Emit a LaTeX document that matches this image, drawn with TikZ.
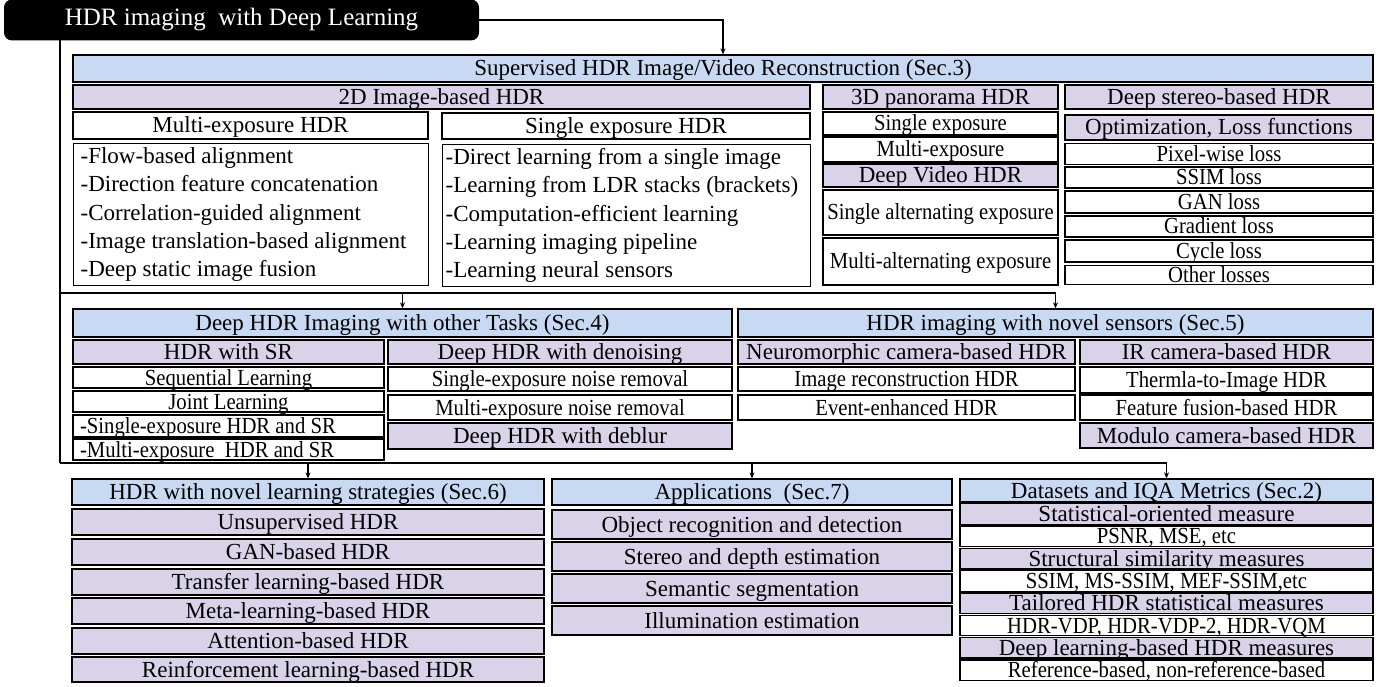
\documentclass[tikz,border=0pt]{standalone}
\usepackage{fontspec}
\setmainfont{Liberation Serif}
\newfontfamily\narrowserif[FakeStretch=0.9]{Liberation Serif}
\usetikzlibrary{arrows.meta}
\definecolor{secblue}{RGB}{200,218,243}
\definecolor{sublav}{RGB}{217,210,232}

\begin{document}
\begin{tikzpicture}[x=1pt, y=-1pt,
    hbox/.style={draw, line width=1.3pt, inner sep=0pt, text height=15pt, text depth=0pt, font=\fontsize{23}{28}\selectfont},
    secbox/.style={hbox, fill=secblue},
    subbox/.style={hbox, fill=sublav},
    headbox/.style={hbox, fill=white},
    itembox/.style={hbox, fill=white, font=\narrowserif\fontsize{23}{28}\selectfont},
    itemleft/.style={itembox, inner xsep=7pt, align=flush left},
    listbox/.style={draw, line width=1.3pt, anchor=north west, align=flush left, inner ysep=0pt, font=\fontsize{23}{28.3}\selectfont},
    link/.style={line width=1.3pt},
    arr/.style={link, -{Stealth[length=6pt,width=5pt]}}]
    \useasboundingbox (0,0) rectangle (1379,687);

    % Root
    \node[fill=black, text=white, rounded corners=8pt, minimum width=475, minimum height=41, inner sep=0pt, font=\fontsize{25}{30}\selectfont] (root) at (241.5,20) {HDR imaging~ with Deep Learning};

    % Supervised reconstruction (Sec.3)
    \node[secbox, minimum width=1300, minimum height=27] (sup) at (723,68.5) {Supervised HDR Image/Video Reconstruction (Sec.3)};
    \node[subbox, minimum width=737, minimum height=24] (img2d) at (441.5,97) {2D Image-based HDR};
    \node[headbox, minimum width=355, minimum height=27] (multi) at (250.5,125.5) {Multi-exposure HDR};
    \node[listbox, inner xsep=7pt, minimum height=142, text width=341] (multilist) at (73,143) {-Flow-based alignment\\-Direction feature concatenation\\-Correlation-guided alignment\\-Image translation-based alignment\\-Deep static image fusion};
    \node[headbox, minimum width=368, minimum height=26] (single) at (626,126) {Single exposure HDR};
    \node[listbox, inner xsep=3pt, minimum height=142, text width=362] (singlelist) at (442,144) {-Direct learning from a single image\\-Learning from LDR stacks (brackets)\\-Computation-efficient learning\\-Learning imaging pipeline\\-Learning neural sensors};

    \node[subbox, minimum width=235, minimum height=24] (pano) at (940.5,97) {3D panorama HDR};
    \node[itembox, minimum width=235, minimum height=23] (panosingle) at (940.5,123.5) {Single exposure};
    \node[itembox, minimum width=235, minimum height=25] (panomulti) at (940.5,149.5) {Multi-exposure};
    \node[subbox, minimum width=235, minimum height=23] (video) at (940.5,175.5) {Deep Video HDR};
    \node[itembox, minimum width=235, minimum height=45] (videosingle) at (940.5,212.5) {Single alternating exposure};
    \node[itembox, minimum width=235, minimum height=47] (videomulti) at (940.5,261.5) {Multi-alternating exposure};

    \node[subbox, minimum width=308, minimum height=24] (stereo) at (1219,97) {Deep stereo-based HDR};
    \node[subbox, minimum width=308, minimum height=25] (optim) at (1219,127.5) {Optimization, Loss functions};
    \node[itembox, minimum width=308, minimum height=21] (pixloss) at (1219,154) {Pixel-wise loss};
    \node[itembox, minimum width=308, minimum height=21] (ssimloss) at (1219,177.5) {SSIM loss};
    \node[itembox, minimum width=308, minimum height=22] (ganloss) at (1219,202) {GAN loss};
    \node[itembox, minimum width=308, minimum height=21] (gradloss) at (1219,226.5) {Gradient loss};
    \node[itembox, minimum width=308, minimum height=22] (cycleloss) at (1219,251) {Cycle loss};
    \node[itembox, minimum width=308, minimum height=19] (otherloss) at (1219,275) {Other losses};

    % Other tasks (Sec.4)
    \node[secbox, minimum width=659, minimum height=28] (tasks) at (402.5,323) {Deep HDR Imaging with other Tasks (Sec.4)};
    \node[subbox, minimum width=311, minimum height=24] (sr) at (228.5,352) {HDR with SR};
    \node[itembox, minimum width=311, minimum height=21] (seq) at (228.5,377.5) {Sequential Learning};
    \node[itembox, minimum width=311, minimum height=21] (joint) at (228.5,401.5) {Joint Learning};
    \node[itemleft, text width=297, minimum height=22] (srsingle) at (228.5,426) {-Single-exposure HDR and SR};
    \node[itemleft, text width=297, minimum height=21] (srmulti) at (228.5,449.5) {-Multi-exposure~ HDR and SR};
    \node[subbox, minimum width=344, minimum height=24] (denoise) at (560,352) {Deep HDR with denoising};
    \node[itembox, minimum width=344, minimum height=24] (dnsingle) at (560,379) {Single-exposure noise removal};
    \node[itembox, minimum width=344, minimum height=25] (dnmulti) at (560,407.5) {Multi-exposure noise removal};
    \node[subbox, minimum width=344, minimum height=26] (deblur) at (560,436) {Deep HDR with deblur};

    % Novel sensors (Sec.5)
    \node[secbox, minimum width=635, minimum height=28] (sensors) at (1055.5,323) {HDR imaging with novel sensors (Sec.5)};
    \node[subbox, minimum width=337, minimum height=24] (neuro) at (906.5,352) {Neuromorphic camera-based HDR};
    \node[itembox, minimum width=337, minimum height=24] (imgrec) at (906.5,379) {Image reconstruction HDR};
    \node[itembox, minimum width=337, minimum height=25] (event) at (906.5,407.5) {Event-enhanced HDR};
    \node[subbox, minimum width=293, minimum height=24] (ircam) at (1226.5,352) {IR camera-based HDR};
    \node[itembox, minimum width=293, minimum height=26] (thermal) at (1226.5,380) {Thermla-to-Image HDR};
    \node[itembox, minimum width=293, minimum height=25] (fusion) at (1226.5,407.5) {Feature fusion-based HDR};
    \node[subbox, minimum width=293, minimum height=25] (modulo) at (1226.5,435.5) {Modulo camera-based HDR};

    % Learning strategies (Sec.6)
    \node[secbox, minimum width=472, minimum height=26] (learn) at (308,492) {HDR with novel learning strategies (Sec.6)};
    \node[subbox, minimum width=472, minimum height=26] (unsup) at (308,522) {Unsupervised HDR};
    \node[subbox, minimum width=472, minimum height=26] (gan) at (308,552) {GAN-based HDR};
    \node[subbox, minimum width=472, minimum height=26] (transfer) at (308,582) {Transfer learning-based HDR};
    \node[subbox, minimum width=472, minimum height=26] (meta) at (308,611) {Meta-learning-based HDR};
    \node[subbox, minimum width=472, minimum height=26] (attention) at (308,641) {Attention-based HDR};
    \node[subbox, minimum width=472, minimum height=25] (reinforce) at (308,669.5) {Reinforcement learning-based HDR};

    % Applications (Sec.7)
    \node[secbox, minimum width=400, minimum height=26] (apps) at (752,492) {Applications~ (Sec.7)};
    \node[subbox, minimum width=400, minimum height=29] (object) at (752,524.5) {Object recognition and detection};
    \node[subbox, minimum width=400, minimum height=29] (depth) at (752,556.5) {Stereo and depth estimation};
    \node[subbox, minimum width=400, minimum height=29] (segment) at (752,588.5) {Semantic segmentation};
    \node[subbox, minimum width=400, minimum height=29] (illum) at (752,620.5) {Illumination estimation};

    % Datasets and metrics (Sec.2)
    \node[secbox, minimum width=413, minimum height=23] (data) at (1166.5,490.5) {Datasets and IQA Metrics (Sec.2)};
    \node[subbox, minimum width=413, minimum height=20.5] (statm) at (1166.5,514) {Statistical-oriented measure};
    \node[itembox, minimum width=413, minimum height=20.5] (psnr) at (1166.5,536.3) {PSNR, MSE, etc};
    \node[subbox, minimum width=413, minimum height=20.5] (structm) at (1166.5,558.6) {Structural similarity measures};
    \node[itembox, minimum width=413, minimum height=20.5] (ssim) at (1166.5,580.9) {SSIM, MS-SSIM, MEF-SSIM,etc};
    \node[subbox, minimum width=413, minimum height=20.5] (tailm) at (1166.5,603.2) {Tailored HDR statistical measures};
    \node[itembox, minimum width=413, minimum height=20.5] (vdp) at (1166.5,625.5) {HDR-VDP, HDR-VDP-2, HDR-VQM};
    \node[subbox, minimum width=413, minimum height=20.5] (deepm) at (1166.5,647.8) {Deep learning-based HDR measures};
    \node[itembox, minimum width=413, minimum height=20.5] (refm) at (1166.5,670.1) {Reference-based, non-reference-based};

    % Connectors
    \coordinate (trunk) at (60,40.5);
    \coordinate (split1) at (60,293);
    \coordinate (split2) at (60,463);
    \draw[arr] (root.east) -| (sup.north);
    \draw[link] (trunk) -- (split2);
    \draw[arr] (split1) -| (tasks.north);
    \draw[arr] (split1) -| (sensors.north);
    \draw[arr] (split2) -| (learn.north);
    \draw[arr] (split2) -| (apps.north);
    \draw[arr] (split2) -| (data.north);
\end{tikzpicture}
\end{document}
